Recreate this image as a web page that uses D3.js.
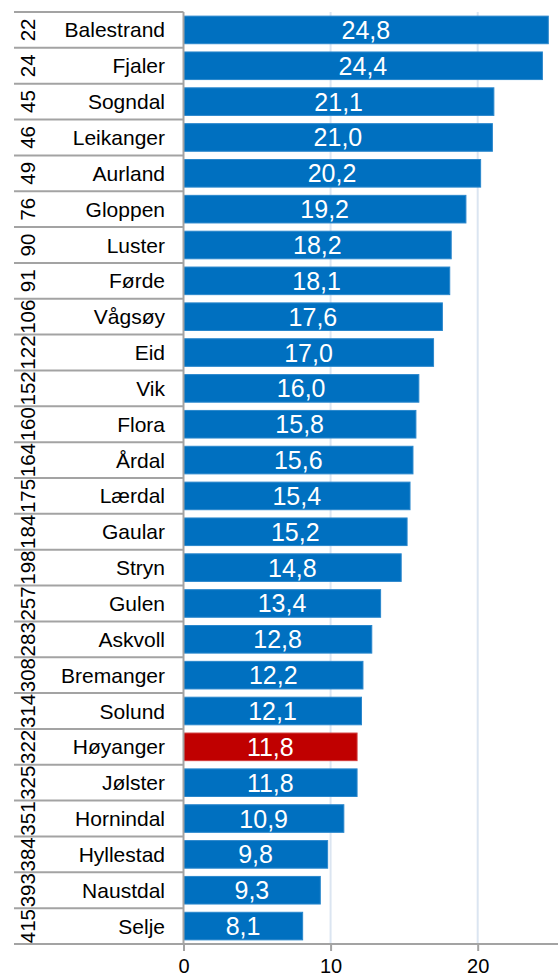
<!DOCTYPE html>
<html>
<head>
<meta charset="utf-8">
<script src="https://cdn.jsdelivr.net/npm/d3@7"></script>
<style>
  html, body { margin: 0; padding: 0; background: #fff; }
  svg { display: block; font-family: "Liberation Sans", Arial, sans-serif; }
</style>
</head>
<body>
<svg id="chart" width="558" height="977"></svg>
<script>
// Kommunar i Sogn og Fjordane, rangert
const kommunar = ["Balestrand","Fjaler","Sogndal","Leikanger","Aurland","Gloppen","Luster","Førde","Vågsøy","Eid","Vik","Flora","Årdal","Lærdal","Gaular","Stryn","Gulen","Askvoll","Bremanger","Solund","Høyanger","Jølster","Hornindal","Hyllestad","Naustdal","Selje"];
const verdiar = [24.8,24.4,21.1,21.0,20.2,19.2,18.2,18.1,17.6,17.0,16.0,15.8,15.6,15.4,15.2,14.8,13.4,12.8,12.2,12.1,11.8,11.8,10.9,9.8,9.3,8.1];
const rangering = [22,24,45,46,49,76,90,91,106,122,152,160,164,175,184,198,257,283,308,314,322,325,351,384,393,415];
const utheva = "Høyanger";
const xTicks = [0, 10, 20];

const rows = kommunar.map((k, i) => ({ namn: k, verdi: verdiar[i], rang: rangering[i] }));

const svg = d3.select("#chart");
const plotTop = 12, plotBottom = 944, tableLeft = 14, axisX = 183.5, plotRight = 558;
const lineCol = "#a3a3a3";

const x = d3.scaleLinear().domain([0, 25.46]).range([axisX, plotRight]);
const rowY = d3.scaleBand().domain(kommunar).range([plotTop, plotBottom]).padding(0);
const barY = d3.scaleBand().domain(kommunar).range([plotTop, plotBottom])
  .paddingInner(0.23).paddingOuter(0.115);

// gridlines
svg.append("g").selectAll("line").data(xTicks.filter(t => t > 0)).join("line")
  .attr("x1", d => x(d)).attr("x2", d => x(d))
  .attr("y1", plotTop).attr("y2", plotBottom)
  .attr("stroke", "#dbe5f1").attr("stroke-width", 2);

// bars
svg.append("g").selectAll("rect").data(rows).join("rect")
  .attr("x", x(0))
  .attr("y", d => barY(d.namn))
  .attr("width", d => x(d.verdi) - x(0))
  .attr("height", barY.bandwidth())
  .attr("fill", d => d.namn === utheva ? "#C00000" : "#0070C0")
  .attr("stroke", d => d.namn === utheva ? "#d23a3a" : "#2a87cc")
  .attr("stroke-width", 1);

// value labels
svg.append("g").selectAll("text").data(rows).join("text")
  .attr("x", d => (x(0) + x(d.verdi)) / 2)
  .attr("y", d => barY(d.namn) + barY.bandwidth() / 2 + 9)
  .attr("text-anchor", "middle")
  .attr("fill", "#fff")
  .attr("font-size", 25)
  .text(d => d3.format(".1f")(d.verdi).replace(".", ","));

// row separators in the label table
const edges = kommunar.map(k => rowY(k)).concat([plotBottom]);
svg.append("g").selectAll("line").data(edges).join("line")
  .attr("x1", tableLeft).attr("x2", axisX)
  .attr("y1", d => d).attr("y2", d => d)
  .attr("stroke", lineCol).attr("stroke-width", 2);

// vertical axis line
svg.append("line")
  .attr("x1", axisX).attr("x2", axisX).attr("y1", plotTop).attr("y2", plotBottom)
  .attr("stroke", lineCol).attr("stroke-width", 2);

// names
svg.append("g").selectAll("text").data(rows).join("text")
  .attr("x", 165)
  .attr("y", d => rowY(d.namn) + rowY.bandwidth() / 2 + 7.5)
  .attr("text-anchor", "end")
  .attr("fill", "#000")
  .attr("font-size", 21)
  .text(d => d.namn);

// ranks, rotated
svg.append("g").selectAll("text").data(rows).join("text")
  .attr("transform", d => `translate(34.5,${rowY(d.namn) + rowY.bandwidth() / 2}) rotate(-90)`)
  .attr("text-anchor", "middle")
  .attr("fill", "#000")
  .attr("font-size", 20.5)
  .text(d => d.rang);

// bottom axis
const xAxis = svg.append("g")
  .attr("transform", `translate(0,${plotBottom})`)
  .call(d3.axisBottom(x).tickValues(xTicks).tickFormat(d3.format("d"))
    .tickSize(7).tickPadding(8));
xAxis.select(".domain").remove();
xAxis.selectAll(".tick line").attr("stroke", lineCol).attr("stroke-width", 2);
xAxis.selectAll(".tick text").attr("font-size", 20).attr("fill", "#000")
  .attr("font-family", "'Liberation Sans', Arial, sans-serif");
svg.append("line")
  .attr("x1", tableLeft).attr("x2", plotRight).attr("y1", plotBottom).attr("y2", plotBottom)
  .attr("stroke", lineCol).attr("stroke-width", 2);
</script>
</body>
</html>
